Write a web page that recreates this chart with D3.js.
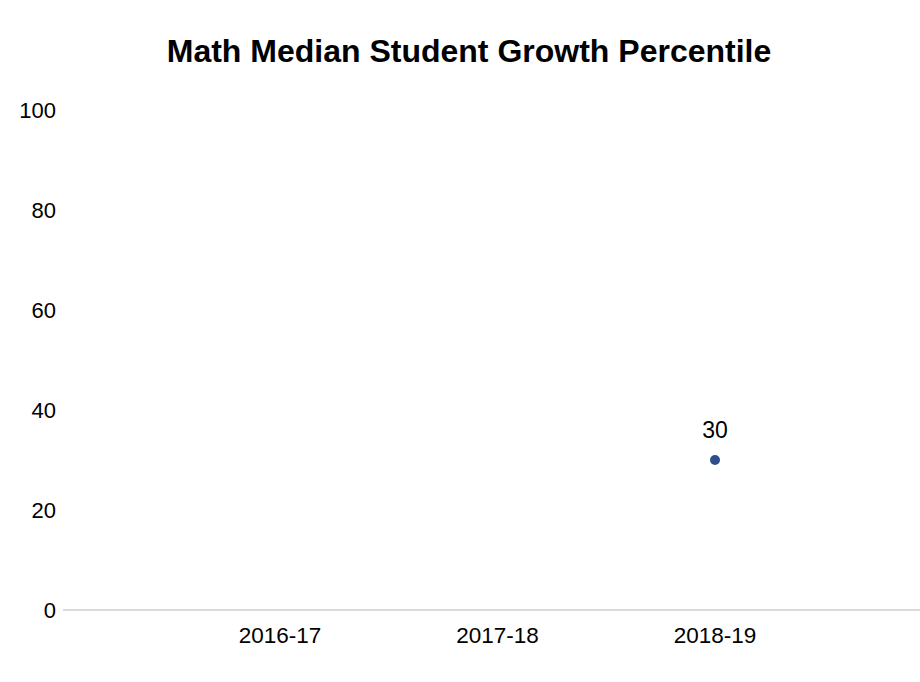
<!DOCTYPE html>
<html><head><meta charset="utf-8">
<script src="https://cdn.jsdelivr.net/npm/d3@7"></script>
<style>body{margin:0;background:#fff;}svg{display:block;font-family:"Liberation Sans",Arial,sans-serif;}</style>
</head><body>
<svg id="c" width="920" height="682"></svg>
<script>
const categories = ["2016-17", "2017-18", "2018-19"];
const values = [null, null, 30];
const yTicks = [0, 20, 40, 60, 80, 100];
const title = "Math Median Student Growth Percentile";

const svg = d3.select("#c");
const x = d3.scaleLinear().domain([-1, 3]).range([62.5, 932.5]);
const y = d3.scaleLinear().domain([0, 100]).range([610, 110]);

svg.append("text").attr("x", 469).attr("y", 62).attr("text-anchor", "middle")
  .attr("font-size", 32).attr("font-weight", "bold").attr("fill", "#000").text(title);

svg.selectAll(".yt").data(yTicks).enter().append("text")
  .attr("x", 56).attr("y", d => y(d) + 7.5).attr("text-anchor", "end")
  .attr("font-size", 22).attr("fill", "#000").text(d => d);

svg.append("line").attr("x1", 63).attr("x2", 920).attr("y1", y(0)).attr("y2", y(0))
  .attr("stroke", "#d9d9d9").attr("stroke-width", 2);

svg.selectAll(".xt").data(categories).enter().append("text")
  .attr("x", (d, i) => x(i)).attr("y", 643).attr("text-anchor", "middle")
  .attr("font-size", 22.5).attr("fill", "#000").text(d => d);

const pts = values.map((v, i) => ({v, i})).filter(d => d.v != null);
svg.selectAll(".pt").data(pts).enter().append("circle")
  .attr("cx", d => x(d.i)).attr("cy", d => y(d.v)).attr("r", 5).attr("fill", "#2e4f8c");
svg.selectAll(".lbl").data(pts).enter().append("text")
  .attr("x", d => x(d.i)).attr("y", d => y(d.v) - 22).attr("text-anchor", "middle")
  .attr("font-size", 23).attr("fill", "#000").text(d => d.v);
</script>
</body></html>
